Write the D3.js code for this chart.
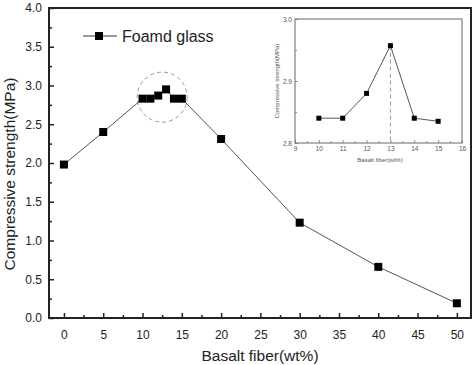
<!DOCTYPE html>
<html>
<head>
<meta charset="utf-8">
<script src="https://cdn.jsdelivr.net/npm/d3@7"></script>
<style>
  body { margin: 0; background: #fff; }
  svg { display: block; font-family: Arial, "Liberation Sans", Helvetica, sans-serif; }
</style>
</head>
<body>
<svg id="chart" width="474" height="365"></svg>
<script>
// main series: basalt fiber content (wt%) vs compressive strength (MPa)
const fiber = [0, 5, 10, 11, 12, 13, 14, 15, 20, 30, 40, 50];
const strength = [1.98, 2.40, 2.83, 2.83, 2.87, 2.95, 2.83, 2.83, 2.31, 1.23, 0.66, 0.19];
const xTicks = [0, 5, 10, 15, 20, 25, 30, 35, 40, 45, 50];
const yTicks = [0, 0.5, 1.0, 1.5, 2.0, 2.5, 3.0, 3.5, 4.0];

// inset: zoom on 10-15 wt%
const insetFiber = [10, 11, 12, 13, 14, 15];
const insetStrength = [2.84, 2.84, 2.88, 2.957, 2.84, 2.835];
const insetXTicks = [9, 10, 11, 12, 13, 14, 15, 16];
const insetYTicks = [2.8, 2.9, 3.0];

const seriesName = 'Foamd glass';

const svg = d3.select('#chart');
const m = { left: 49, right: 471, top: 8, bottom: 318 };

const x = d3.scaleLinear().domain([-1.9, 51.8]).range([m.left, m.right]);
const y = d3.scaleLinear().domain([0, 4]).range([m.bottom, m.top]);

// frame
svg.append('rect')
  .attr('x', m.left).attr('y', m.top)
  .attr('width', m.right - m.left).attr('height', m.bottom - m.top)
  .attr('fill', 'none').attr('stroke', '#222').attr('stroke-width', 2);

// ticks (pointing inwards)
const xAxis = svg.append('g').attr('transform', `translate(0,${m.bottom})`)
  .call(d3.axisBottom(x).tickValues(xTicks).tickSize(-5).tickPadding(12).tickFormat(d3.format('d')));
const xMinor = svg.append('g').attr('transform', `translate(0,${m.bottom})`)
  .call(d3.axisBottom(x).tickValues(xTicks.slice(0, -1).map((d) => d + 2.5)).tickSize(-3).tickFormat(''));
const yAxis = svg.append('g').attr('transform', `translate(${m.left},0)`)
  .call(d3.axisLeft(y).tickValues(yTicks).tickSize(-5).tickPadding(7).tickFormat(d3.format('.1f')));
const yMinor = svg.append('g').attr('transform', `translate(${m.left},0)`)
  .call(d3.axisLeft(y).tickValues(yTicks.slice(0, -1).map((d) => d + 0.25)).tickSize(-3).tickFormat(''));

[xAxis, xMinor, yAxis, yMinor].forEach((g) => {
  g.select('.domain').remove();
  g.selectAll('line').attr('stroke', '#222').attr('stroke-width', 1.5);
  g.selectAll('text').attr('font-size', 12).attr('fill', '#222').attr('font-family', 'Arial, "Liberation Sans", sans-serif');
});
xAxis.selectAll('text').attr('dy', '0.71em');

// axis titles
svg.append('text')
  .attr('x', 260).attr('y', 361)
  .attr('text-anchor', 'middle')
  .attr('font-size', 15.5).attr('fill', '#222')
  .text('Basalt fiber(wt%)');
svg.append('text')
  .attr('transform', 'translate(15,174) rotate(-90)')
  .attr('text-anchor', 'middle')
  .attr('font-size', 15.5).attr('fill', '#222')
  .text('Compressive strength(MPa)');

// highlight circle around the 10-15 wt% cluster
svg.append('circle')
  .attr('cx', x(12.5)).attr('cy', y(2.85)).attr('r', 25)
  .attr('fill', 'none').attr('stroke', '#999').attr('stroke-width', 1)
  .attr('stroke-dasharray', '4,3');

const pts = fiber.map((d, i) => [d, strength[i]]);
svg.append('path')
  .datum(pts)
  .attr('fill', 'none').attr('stroke', '#555').attr('stroke-width', 1)
  .attr('d', d3.line().x((d) => x(d[0])).y((d) => y(d[1])));
svg.append('g').selectAll('rect')
  .data(pts)
  .join('rect')
  .attr('x', (d) => x(d[0]) - 4).attr('y', (d) => y(d[1]) - 4)
  .attr('width', 8).attr('height', 8)
  .attr('fill', '#000');

// legend
const lg = svg.append('g').attr('transform', 'translate(83,36)');
lg.append('line').attr('x1', 0).attr('x2', 34).attr('stroke', '#333').attr('stroke-width', 1);
lg.append('rect').attr('x', 12).attr('y', -4).attr('width', 8).attr('height', 8).attr('fill', '#000');
lg.append('text').attr('x', 39).attr('y', 5.5).attr('font-size', 16).attr('fill', '#222').text(seriesName);

// inset chart
const im = { left: 295, right: 462, top: 19, bottom: 143 };
const ix = d3.scaleLinear().domain([9, 16]).range([im.left, im.right]);
const iy = d3.scaleLinear().domain([2.8, 3.0]).range([im.bottom, im.top]);

const inset = svg.append('g');
inset.append('rect')
  .attr('x', im.left).attr('y', im.top)
  .attr('width', im.right - im.left).attr('height', im.bottom - im.top)
  .attr('fill', '#fff').attr('stroke', '#666').attr('stroke-width', 1);

const ixAxis = inset.append('g').attr('transform', `translate(0,${im.bottom})`)
  .call(d3.axisBottom(ix).tickValues(insetXTicks).tickSize(-3).tickPadding(3).tickFormat(d3.format('d')));
const ixMinor = inset.append('g').attr('transform', `translate(0,${im.bottom})`)
  .call(d3.axisBottom(ix).tickValues(insetXTicks.slice(0, -1).map((d) => d + 0.5)).tickSize(-2).tickFormat(''));
const iyAxis = inset.append('g').attr('transform', `translate(${im.left},0)`)
  .call(d3.axisLeft(iy).tickValues(insetYTicks).tickSize(-3).tickPadding(3).tickFormat(d3.format('.1f')));
const iyMinor = inset.append('g').attr('transform', `translate(${im.left},0)`)
  .call(d3.axisLeft(iy).tickValues([2.85, 2.95]).tickSize(-2).tickFormat(''));

[ixAxis, ixMinor, iyAxis, iyMinor].forEach((g) => {
  g.select('.domain').remove();
  g.selectAll('line').attr('stroke', '#777').attr('stroke-width', 0.8);
  g.selectAll('text').attr('font-size', 6.5).attr('fill', '#555').attr('font-family', 'Arial, "Liberation Sans", sans-serif');
});

inset.append('text')
  .attr('x', 380).attr('y', 162)
  .attr('text-anchor', 'middle')
  .attr('font-size', 6).attr('fill', '#555')
  .text('Basalt fiber(wt%)');
inset.append('text')
  .attr('transform', 'translate(279,81) rotate(-90)')
  .attr('text-anchor', 'middle')
  .attr('font-size', 6).attr('fill', '#555')
  .text('Compressive strength(MPa)');

const ipts = insetFiber.map((d, i) => [d, insetStrength[i]]);
const peak = ipts[insetStrength.indexOf(d3.max(insetStrength))];
inset.append('line')
  .attr('x1', ix(peak[0])).attr('x2', ix(peak[0]))
  .attr('y1', iy(peak[1])).attr('y2', im.bottom)
  .attr('stroke', '#999').attr('stroke-width', 1).attr('stroke-dasharray', '4,3');
inset.append('path')
  .datum(ipts)
  .attr('fill', 'none').attr('stroke', '#444').attr('stroke-width', 0.9)
  .attr('d', d3.line().x((d) => ix(d[0])).y((d) => iy(d[1])));
inset.append('g').selectAll('rect')
  .data(ipts)
  .join('rect')
  .attr('x', (d) => ix(d[0]) - 2.5).attr('y', (d) => iy(d[1]) - 2.5)
  .attr('width', 5).attr('height', 5)
  .attr('fill', '#000');
</script>
</body>
</html>
